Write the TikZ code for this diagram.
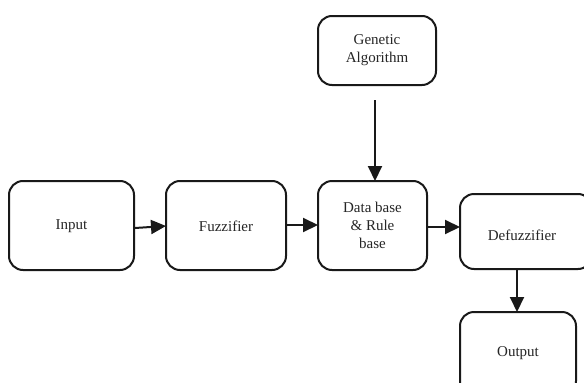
\documentclass[tikz,border=0pt]{standalone}
\usepackage{fontspec}
\setmainfont{Liberation Serif}
\usetikzlibrary{arrows.meta}
\begin{document}
\begin{tikzpicture}[x=1pt,y=-1pt,
  blk/.style={draw=black!90, line width=2pt, rounded corners=14pt, fill=white},
  lbl/.style={font=\fontsize{15}{18}\selectfont, align=center, text=black!85},
  arr/.style={line width=2pt, draw=black!90, -{Triangle[length=15pt,width=14pt]}}]
\useasboundingbox (0,0) rectangle (584,383);
\clip (0,0) rectangle (584,383);
\fill[white] (0,0) rectangle (584,383);
\draw[blk] (9,181) rectangle (134,270);
\draw[blk] (166,181) rectangle (286,270);
\draw[blk] (318,181) rectangle (427,270);
\draw[blk] (318,16) rectangle (436,85);
\draw[blk] (460,194) rectangle (592,269);
\draw[blk] (460,312) rectangle (576,395);
\node[lbl] (in) at (71.5,226) {Input};
\node[lbl] (fz) at (226,226) {Fuzzifier};
\node[lbl] (db) at (372.5,225) {Data base\\\& Rule\\base};
\node[lbl] (ga) at (377,50) {Genetic\\Algorithm};
\node[lbl] (dz) at (522,235) {Defuzzifier};
\node[lbl] (out) at (518,353) {Output};
\coordinate (a1) at (135,228);
\coordinate (a2) at (166,226);
\coordinate (b1) at (287,225);
\coordinate (b2) at (318,225);
\coordinate (c1) at (428,227);
\coordinate (c2) at (460,227);
\coordinate (d1) at (375,100);
\coordinate (d2) at (375,181);
\coordinate (e1) at (517,269);
\coordinate (e2) at (517,312);
\draw[arr] (a1) -- (a2);
\draw[arr] (b1) -- (b2);
\draw[arr] (c1) -- (c2);
\draw[arr] (d1) -- (d2);
\draw[arr] (e1) -- (e2);
\end{tikzpicture}
\end{document}
